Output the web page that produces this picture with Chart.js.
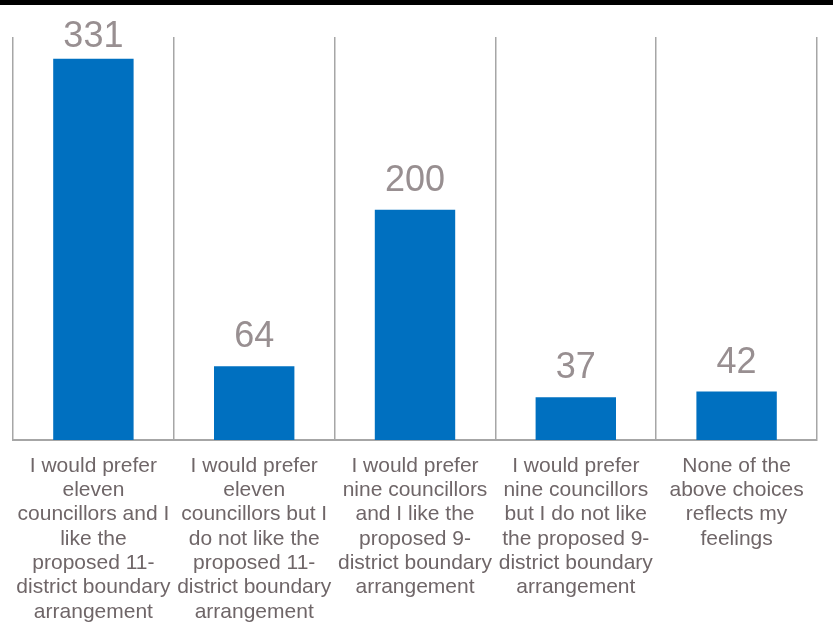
<!DOCTYPE html>
<html>
<head>
<meta charset="utf-8">
<script src="https://cdn.jsdelivr.net/npm/chart.js@4.4.1/dist/chart.umd.min.js"></script>
<style>
html,body{margin:0;padding:0;background:#fff;}
#wrap{width:833px;height:635px;position:relative;}
</style>
</head>
<body>
<div id="wrap"><canvas id="c" width="833" height="635"></canvas></div>
<script>
const categories = [
  "I would prefer eleven councillors and I like the proposed 11-district boundary arrangement",
  "I would prefer eleven councillors but I do not like the proposed 11-district boundary arrangement",
  "I would prefer nine councillors and I like the proposed 9-district boundary arrangement",
  "I would prefer nine councillors but I do not like the proposed 9-district boundary arrangement",
  "None of the above choices reflects my feelings"
];
const tickLabels = [
  ["I would prefer","eleven","councillors and I","like the","proposed 11-","district boundary","arrangement"],
  ["I would prefer","eleven","councillors but I","do not like the","proposed 11-","district boundary","arrangement"],
  ["I would prefer","nine councillors","and I like the","proposed 9-","district boundary","arrangement"],
  ["I would prefer","nine councillors","but I do not like","the proposed 9-","district boundary","arrangement"],
  ["None of the","above choices","reflects my","feelings"]
];
const values = [331, 64, 200, 37, 42];
const yMin = 0;
const yMax = 350;

const topBand = {
  id: 'topBand',
  beforeDraw(chart) {
    const ctx = chart.ctx;
    ctx.save();
    ctx.fillStyle = '#000';
    ctx.fillRect(0, 0, chart.width, 5);
    ctx.restore();
  }
};

const valueLabels = {
  id: 'valueLabels',
  afterDatasetsDraw(chart) {
    const ctx = chart.ctx;
    const meta = chart.getDatasetMeta(0);
    ctx.save();
    ctx.font = '36px "Liberation Sans", Arial, sans-serif';
    ctx.fillStyle = '#988f91';
    ctx.textAlign = 'center';
    ctx.textBaseline = 'alphabetic';
    meta.data.forEach((bar, i) => {
      const y = Math.max(bar.y - 19, chart.chartArea.top + 10);
      ctx.fillText(String(chart.data.datasets[0].data[i]), bar.x, y);
    });
    ctx.restore();
  }
};

new Chart(document.getElementById('c'), {
  type: 'bar',
  data: {
    labels: tickLabels,
    datasets: [{
      label: 'Responses',
      data: values,
      backgroundColor: '#0070C0',
      borderWidth: 0,
      categoryPercentage: 1.0,
      barPercentage: 0.5
    }]
  },
  options: {
    responsive: false,
    animation: false,
    devicePixelRatio: 1,
    layout: { padding: { left: 13, right: 16, top: 37, bottom: -3 } },
    plugins: {
      legend: { display: false },
      tooltip: { enabled: false },
      title: { display: false }
    },
    scales: {
      x: {
        grid: { display: true, offset: true, color: '#a6a6a6', lineWidth: 1.5, drawTicks: false },
        border: { display: true, color: '#a6a6a6', width: 2 },
        ticks: {
          maxRotation: 0, minRotation: 0, autoSkip: false,
          padding: 14,
          color: '#6f6668',
          font: { family: '"Liberation Sans", Arial, sans-serif', size: 21, lineHeight: 1.157 }
        }
      },
      y: {
        display: false,
        min: yMin,
        max: yMax
      }
    }
  },
  plugins: [topBand, valueLabels]
});
</script>
</body>
</html>
